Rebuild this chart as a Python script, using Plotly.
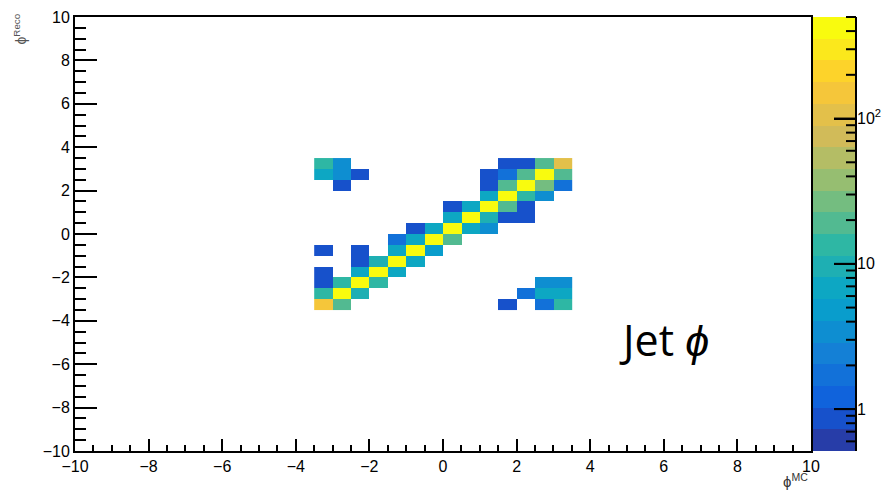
import numpy as np
import plotly.graph_objects as go

# Jet phi response: reconstructed vs generated, 0.5-wide bins from -3.5 to 3.5
bin_edges = [-3.5 + 0.5 * i for i in range(15)]

phi_mc = [
    -3.25, -2.75, 1.75, 2.25, 2.75, 3.25,
    -3.25, -2.75, -2.25, 1.25, 1.75, 2.25, 2.75, 3.25,
    -2.75, 1.25, 1.75, 2.25, 2.75, 3.25,
    1.25, 1.75, 2.25, 2.75,
    0.25, 0.75, 1.25, 1.75, 2.25,
    0.25, 0.75, 1.25, 1.75, 2.25,
    -0.75, -0.25, 0.25, 0.75, 1.25,
    -1.25, -0.75, -0.25, 0.25,
    -3.25, -2.25, -1.25, -0.75, -0.25,
    -2.25, -1.75, -1.25, -0.75,
    -3.25, -2.25, -1.75, -1.25,
    -3.25, -2.75, -2.25, -1.75, 2.75, 3.25,
    -3.25, -2.75, -2.25, 2.25, 2.75, 3.25,
    -3.25, -2.75, 1.75, 2.75, 3.25,
]
phi_reco = [
    3.25, 3.25, 3.25, 3.25, 3.25, 3.25,
    2.75, 2.75, 2.75, 2.75, 2.75, 2.75, 2.75, 2.75,
    2.25, 2.25, 2.25, 2.25, 2.25, 2.25,
    1.75, 1.75, 1.75, 1.75,
    1.25, 1.25, 1.25, 1.25, 1.25,
    0.75, 0.75, 0.75, 0.75, 0.75,
    0.25, 0.25, 0.25, 0.25, 0.25,
    -0.25, -0.25, -0.25, -0.25,
    -0.75, -0.75, -0.75, -0.75, -0.75,
    -1.25, -1.25, -1.25, -1.25,
    -1.75, -1.75, -1.75, -1.75,
    -2.25, -2.25, -2.25, -2.25, -2.25, -2.25,
    -2.75, -2.75, -2.75, -2.75, -2.75, -2.75,
    -3.25, -3.25, -3.25, -3.25, -3.25,
]
entries = [
    13, 4, 1, 1, 19, 110,
    7, 4, 1, 1, 2, 19, 420, 19,
    1, 1, 19, 450, 27, 2,
    6, 430, 13, 4,
    1, 6, 440, 19, 1,
    6, 450, 10, 1, 1,
    1, 6, 460, 6, 4,
    2, 6, 450, 19,
    1, 1, 6, 460, 5,
    1, 10, 450, 6,
    1, 6, 440, 6,
    1, 13, 430, 12, 4, 4,
    13, 420, 10, 2, 6, 6,
    150, 19, 1, 2, 13,
]

z_min, z_max = 0.515, 500.0
n_contours = 20

major_ticks = [1, 10, 100]
major_labels = ["1", "10", "10<sup>2</sup>"]
minor_ticks = [0.6, 0.7, 0.8, 0.9, 2, 3, 4, 5, 6, 7, 8, 9,
               20, 30, 40, 50, 60, 70, 80, 90, 200, 300, 400, 500]

# ROOT "bird" palette stops
bird_stops = [0.0, 0.125, 0.25, 0.375, 0.5, 0.625, 0.75, 0.875, 1.0]
bird_r = [0.2082, 0.0592, 0.0780, 0.0232, 0.1802, 0.5301, 0.8186, 0.9956, 0.9764]
bird_g = [0.1664, 0.3599, 0.5041, 0.6419, 0.7178, 0.7492, 0.7328, 0.7862, 0.9832]
bird_b = [0.5293, 0.8684, 0.8385, 0.7914, 0.6425, 0.4662, 0.3499, 0.1968, 0.0539]


def bird(f):
    r = np.interp(f, bird_stops, bird_r)
    g = np.interp(f, bird_stops, bird_g)
    b = np.interp(f, bird_stops, bird_b)
    return f"rgb({int(round(r*255))},{int(round(g*255))},{int(round(b*255))})"


# one flat colour per contour level, as a stepped colour scale
band_colors = []
colorscale = []
for k in range(n_contours):
    idx = int((k + 0.99) * 255 / n_contours)
    c = bird(min(idx, 254) / 254)
    band_colors.append(c)
    colorscale.append([k / n_contours, c])
    colorscale.append([(k + 1) / n_contours, c])

# fill the 2D grid (log10 of the bin content)
grid = np.full((14, 14), np.nan)
for xm, yr, n in zip(phi_mc, phi_reco, entries):
    ix = int(round((xm - bin_edges[0]) / 0.5 - 0.5))
    iy = int(round((yr - bin_edges[0]) / 0.5 - 0.5))
    grid[iy, ix] = np.log10(n)

lz0, lz1 = np.log10(z_min), np.log10(z_max)

# colour axis bands on their own log10 axis
band_edges = np.linspace(lz0, lz1, n_contours + 1)

# plot area spans 75..856 px; main frame ends at 811, colour axis 813..856
W = 856 - 75
main_end = (811 - 75) / W
cbar_start = (813 - 75) / W

fig = go.Figure()
fig.add_trace(go.Heatmap(
    x=bin_edges, y=bin_edges, z=grid,
    zmin=lz0, zmax=lz1, colorscale=colorscale,
    showscale=False, hoverongaps=False,
    xaxis="x", yaxis="y",
))
fig.add_trace(go.Bar(
    x=[0.5] * n_contours, y=np.diff(band_edges), base=band_edges[:-1],
    width=1, marker=dict(color=band_colors, line=dict(width=0)),
    hoverinfo="skip", xaxis="x2", yaxis="y2",
))

axis_font = dict(family="Liberation Sans, Arial, sans-serif", size=16, color="black")

fig.update_layout(
    width=894, height=491,
    margin=dict(l=75, r=894 - 856, t=17, b=40, autoexpand=False),
    paper_bgcolor="white", plot_bgcolor="white",
    showlegend=False, barmode="overlay", bargap=0,
    xaxis=dict(
        domain=[0, main_end], range=[-10, 10], tickmode="linear", tick0=-10, dtick=2,
        ticks="inside", ticklen=12, tickwidth=2, tickcolor="black",
        minor=dict(dtick=0.5, ticks="inside", ticklen=6, tickwidth=2, tickcolor="black"),
        showline=True, linewidth=2, linecolor="black", mirror=True,
        showgrid=False, zeroline=False, tickfont=axis_font, anchor="y",
    ),
    yaxis=dict(
        domain=[0, 1], range=[-10, 10], tickmode="linear", tick0=-10, dtick=2,
        ticks="inside", ticklen=22, tickwidth=2, tickcolor="black",
        minor=dict(dtick=0.5, ticks="inside", ticklen=11, tickwidth=2, tickcolor="black"),
        showline=True, linewidth=2, linecolor="black", mirror=True,
        showgrid=False, zeroline=False, tickfont=axis_font, anchor="x",
    ),
    xaxis2=dict(
        domain=[cbar_start, 1], range=[0, 1], anchor="y2",
        showticklabels=False, ticks="", showline=False, showgrid=False,
        zeroline=False, fixedrange=True,
    ),
    yaxis2=dict(
        domain=[0, 1], range=[lz0, lz1], anchor="x2", side="right",
        tickmode="array", tickvals=list(np.log10(major_ticks)), ticktext=major_labels,
        ticks="inside", ticklen=22, tickwidth=2, tickcolor="black",
        showline=False, showgrid=False, zeroline=False,
        tickfont=axis_font, fixedrange=True,
    ),
)

# colour-axis tick marks and right edge, drawn above every layer
for vals, ln in ((major_ticks, 22), (minor_ticks, 10)):
    for v in vals:
        yp = (np.log10(v) - lz0) / (lz1 - lz0)
        fig.add_shape(type="line", xref="paper", yref="paper", layer="above",
                      x0=1 - ln / W, x1=1, y0=yp, y1=yp,
                      line=dict(color="black", width=2))
fig.add_shape(type="line", xref="paper", yref="paper", layer="above",
              x0=1, x1=1, y0=0, y1=1, line=dict(color="black", width=2))

fig.add_annotation(
    text="ϕ<sup>MC</sup>", xref="paper", yref="paper",
    x=(810 - 75) / W, y=(451 - 492) / 434, xanchor="right", yanchor="bottom",
    showarrow=False, font=dict(family="Liberation Sans, Arial, sans-serif", size=15, color="#333"),
)
fig.add_annotation(
    text="ϕ<sup>Reco</sup>", xref="paper", yref="paper", textangle=-90,
    x=(20 - 75) / W, y=(451 - 12) / 434, xanchor="center", yanchor="top",
    showarrow=False, font=dict(family="Liberation Sans, Arial, sans-serif", size=14, color="#555"),
)
fig.add_annotation(
    text="Jet <i>ϕ</i>", x=6.0, y=-4.85, xref="x", yref="y",
    showarrow=False, font=dict(family="Open Sans, sans-serif", size=43, color="black"),
)

fig.write_html("out.html")
